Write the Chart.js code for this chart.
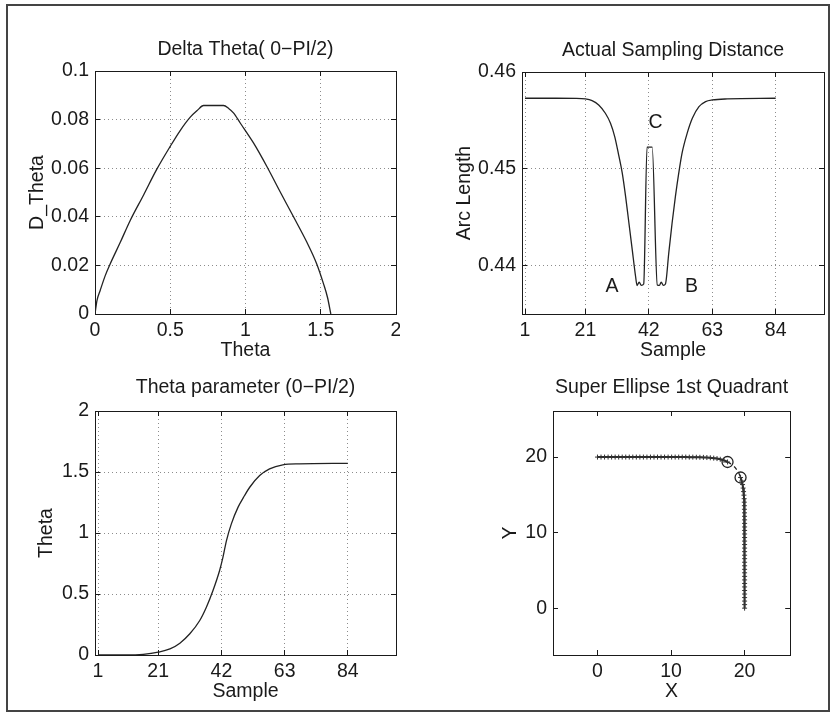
<!DOCTYPE html>
<html><head><meta charset="utf-8">
<script src="https://cdn.jsdelivr.net/npm/chart.js@4.4.1/dist/chart.umd.min.js"></script>
<style>
html,body{margin:0;padding:0;background:#fff;}
body{width:832px;height:714px;position:relative;overflow:hidden;}
#frame{position:absolute;left:6px;top:4px;width:824px;height:708px;box-sizing:border-box;border:2px solid #444;}
canvas{position:absolute;}
</style></head><body>
<div id="frame"></div>
<canvas id="c1" style="left:26px;top:38px" width="374" height="325"></canvas>
<canvas id="c2" style="left:453px;top:39px" width="375" height="324"></canvas>
<canvas id="c3" style="left:35px;top:376px" width="365" height="328"></canvas>
<canvas id="c4" style="left:499px;top:376px" width="298" height="328"></canvas>
<script>
// ---------- data ----------
// Plot 1: Delta Theta vs Theta
const p1Theta = [0, 0.013, 0.035, 0.068, 0.10, 0.168, 0.234, 0.323, 0.41, 0.5, 0.566, 0.633, 0.68, 0.721, 0.854, 0.89, 0.92, 0.965, 1.053, 1.142, 1.23, 1.319, 1.408, 1.474, 1.518, 1.545, 1.567];
const p1Delta = [0, 0.0055, 0.0098, 0.0158, 0.0205, 0.0295, 0.0385, 0.049, 0.0595, 0.069, 0.0755, 0.0810, 0.0838, 0.0858, 0.0858, 0.0845, 0.0828, 0.0786, 0.0704, 0.0607, 0.0503, 0.0400, 0.0295, 0.0205, 0.0125, 0.0068, 0];
const p1XTicks = [0, 0.5, 1, 1.5, 2];
const p1YTicks = [0, 0.02, 0.04, 0.06, 0.08, 0.1];

// Plot 2: Actual sampling distance
const p2Sample = [1, 10, 18, 21, 23.2, 25.4, 27.6, 29.3, 30.7, 32.0, 33.2, 34.3, 35.4, 36.5, 37.6, 38.1, 38.8, 39.5, 40.3, 41.4, 43.1, 44.8, 45.5, 46.1, 46.8, 47.5, 48.6, 49.7, 50.8, 51.9, 53.0, 54.7, 56.4, 58.6, 60.8, 63, 68, 84];
const p2Arc = [0.45729, 0.45729, 0.45728, 0.45722, 0.45704, 0.4566, 0.45574, 0.45471, 0.45333, 0.45144, 0.44955, 0.44715, 0.4444, 0.44165, 0.4389, 0.43794, 0.4383, 0.43795, 0.4381, 0.45224, 0.45224, 0.4380, 0.43795, 0.4383, 0.43795, 0.4381, 0.4413, 0.4444, 0.44715, 0.44955, 0.45162, 0.45368, 0.45522, 0.45642, 0.45694, 0.45711, 0.45722, 0.45729];
const p2XTicks = [1, 21, 42, 63, 84];
const p2YTicks = [0.44, 0.45, 0.46];
const p2Letters = ['A', 'B', 'C'];
const p2LetterX = [29.8, 56.1, 44.2];
const p2LetterY = [0.43787, 0.43787, 0.45477];

// Plot 3: Theta parameter
const p3Sample = [1, 10, 16, 21, 24.9, 28.2, 31.5, 34.8, 37.0, 39.2, 41.4, 42.5, 43.7, 45.3, 47.5, 49.7, 51.4, 54.7, 58.0, 62.4, 67.9, 84];
const p3Theta = [0, 0, 0.005, 0.023, 0.05, 0.097, 0.174, 0.283, 0.392, 0.529, 0.693, 0.80, 0.94, 1.075, 1.21, 1.307, 1.375, 1.471, 1.526, 1.559, 1.567, 1.571];
const p3XTicks = [1, 21, 42, 63, 84];
const p3YTicks = [0, 0.5, 1, 1.5, 2];

// Plot 4: Super ellipse 1st quadrant
const p4X = [0, 0.48, 0.96, 1.44, 1.92, 2.40, 2.88, 3.36, 3.84, 4.32, 4.80, 5.28, 5.76, 6.24, 6.72, 7.20, 7.68, 8.16, 8.64, 9.12, 9.60, 10.08, 10.56, 11.04, 11.52, 12.00, 12.48, 12.96, 13.44, 13.92, 14.40, 14.87, 15.34, 15.80, 16.25, 16.69, 17.2, 17.68,
  17.98, 18.25, 18.5, 18.72, 18.92, 19.1, 19.25, 19.36,
  19.45, 19.6, 19.72, 19.8, 19.86, 19.91, 19.94, 19.96, 19.97, 19.98, 19.99, 19.99, 20, 20, 20, 20, 20, 20, 20, 20, 20, 20, 20, 20, 20, 20, 20, 20, 20, 20, 20, 20, 20, 20, 20, 20, 20, 20];
const p4Y = [20, 20, 20, 20, 20, 20, 20, 20, 20, 20, 20, 20, 20, 20, 20, 20, 20, 20, 20, 20, 20, 20, 20, 20, 20, 20, 19.99, 19.99, 19.98, 19.97, 19.96, 19.94, 19.91, 19.86, 19.8, 19.71, 19.56, 19.35,
  19.2, 19.02, 18.82, 18.6, 18.35, 18.08, 17.8, 17.55,
  17.3, 16.83, 16.36, 15.9, 15.43, 14.96, 14.49, 14.03, 13.56, 13.09, 12.62, 12.16, 11.69, 11.22, 10.75, 10.29, 9.82, 9.35, 8.88, 8.42, 7.95, 7.48, 7.01, 6.55, 6.08, 5.61, 5.14, 4.68, 4.21, 3.74, 3.27, 2.81, 2.34, 1.87, 1.4, 0.94, 0.47, 0];
const p4CircleX = [17.68, 19.45];
const p4CircleY = [19.35, 17.3];
const p4Ticks = [0, 10, 20];

// ---------- styling / helpers ----------
const FONT = '"Liberation Sans", Arial, Helvetica, sans-serif';
const INK = '#1a1a1a';
const FS = 19.5;
Chart.defaults.font.family = FONT;
Chart.defaults.font.size = FS;
Chart.defaults.color = INK;

const pairs = (xs, ys) => ys.map((v, i) => ({x: xs[i], y: v}));
const setTicks = arr => sc => { sc.ticks = arr.map(v => ({value: v})); };

function scalesFor(o) {
  const gridCol = '#8c8c8c';
  const mk = (min, max, ticksArr, position, main, title, size) => {
    const horiz = position === 'bottom' || position === 'top';
    return {
      type: 'linear', min, max, position,
      afterBuildTicks: setTicks(ticksArr),
      grid: {display: true, drawOnChartArea: main && o.grid, color: gridCol, lineWidth: 1,
             drawTicks: true, tickLength: -5, tickColor: INK, tickWidth: 1, tickBorderDash: []},
      border: {display: true, color: INK, width: 1, dash: [1, 3]},
      ticks: {display: main, autoSkip: false, maxRotation: 0, minRotation: 0,
              padding: horiz ? 10 : 11, font: {size: FS, lineHeight: '24px'}, color: INK,
              callback: v => String(v)},
      title: {display: main, text: title || '', padding: 0, color: INK, font: {size: FS, lineHeight: '24px'}},
      afterFit: sc => {
        if (horiz) { sc.height = size; } else { sc.width = size; }
        sc.paddingLeft = 0; sc.paddingRight = 0; sc.paddingTop = 0; sc.paddingBottom = 0;
      }
    };
  };
  return {
    x: mk(o.xMin, o.xMax, o.xTicks, 'bottom', true, o.xTitle, 49),
    y: mk(o.yMin, o.yMax, o.yTicks, 'left', true, o.yTitle, o.yW),
    x2: mk(o.xMin, o.xMax, o.xTicks, 'top', false, '', 0),
    y2: mk(o.yMin, o.yMax, o.yTicks, 'right', false, '', 0)
  };
}

function baseOptions(o) {
  return {
    responsive: false, animation: false, devicePixelRatio: 1,
    layout: {padding: {left: 0, top: 0, right: 4, bottom: 0}},
    plugins: {
      legend: {display: false}, tooltip: {enabled: false},
      title: {display: true, text: o.title, fullSize: false, color: INK,
              padding: {top: 0, bottom: o.titlePad},
              font: {size: FS, weight: 'normal', lineHeight: '24px'}}
    },
    scales: scalesFor(o)
  };
}

const lineDS = (data) => ({
  data, borderColor: '#222', borderWidth: 1.3, pointRadius: 0,
  cubicInterpolationMode: 'monotone', fill: false
});

// Plot 1
new Chart(document.getElementById('c1'), {
  type: 'line',
  data: {datasets: [lineDS(pairs(p1Theta, p1Delta))]},
  options: baseOptions({title: 'Delta Theta( 0\u2212PI/2)', titlePad: 9, grid: true,
    xMin: 0, xMax: 2, yMin: 0, yMax: 0.1, xTicks: p1XTicks, yTicks: p1YTicks,
    xTitle: 'Theta', yTitle: 'D_Theta', yW: 69})
});

// Plot 2
const letterPlugin = {
  id: 'letters',
  afterDatasetsDraw(chart) {
    const {ctx, scales: {x, y}} = chart;
    ctx.save();
    ctx.font = FS + 'px ' + FONT;
    ctx.fillStyle = INK; ctx.textAlign = 'center'; ctx.textBaseline = 'middle';
    p2Letters.forEach((t, i) => ctx.fillText(t, x.getPixelForValue(p2LetterX[i]), y.getPixelForValue(p2LetterY[i])));
    ctx.restore();
  }
};
new Chart(document.getElementById('c2'), {
  type: 'line',
  data: {datasets: [lineDS(pairs(p2Sample, p2Arc))]},
  options: baseOptions({title: 'Actual Sampling Distance', titlePad: 9, grid: true,
    xMin: 0, xMax: 100, yMin: 0.435, yMax: 0.46, xTicks: p2XTicks, yTicks: p2YTicks,
    xTitle: 'Sample', yTitle: 'Arc Length', yW: 69}),
  plugins: [letterPlugin]
});

// Plot 3
new Chart(document.getElementById('c3'), {
  type: 'line',
  data: {datasets: [lineDS(pairs(p3Sample, p3Theta))]},
  options: baseOptions({title: 'Theta parameter (0\u2212PI/2)', titlePad: 11, grid: true,
    xMin: 0, xMax: 100, yMin: 0, yMax: 2, xTicks: p3XTicks, yTicks: p3YTicks,
    xTitle: 'Sample', yTitle: 'Theta', yW: 60})
});

// Plot 4
new Chart(document.getElementById('c4'), {
  type: 'line',
  data: {datasets: [
    {data: pairs(p4X, p4Y), borderColor: '#222', borderWidth: 2, tension: 0, fill: false,
     pointStyle: 'cross', pointBorderColor: '#333', pointBorderWidth: 1,
     pointRadius: c => (c.dataIndex >= 38 && c.dataIndex <= 45) ? 0 : 2.5,
     segment: {borderDash: c => (c.p0DataIndex >= 37 && c.p1DataIndex <= 46) ? [4, 4] : undefined,
               borderWidth: c => (c.p0DataIndex >= 37 && c.p1DataIndex <= 46) ? 1.3 : undefined}},
    {data: pairs(p4CircleX, p4CircleY), showLine: false, pointStyle: 'circle', pointRadius: 5.5,
     pointBorderColor: '#222', pointBorderWidth: 1.3, pointBackgroundColor: 'rgba(0,0,0,0)'}
  ]},
  options: baseOptions({title: 'Super Ellipse 1st Quadrant', titlePad: 11, grid: false,
    xMin: -6.05, xMax: 26.2, yMin: -6.2, yMax: 26.1, xTicks: p4Ticks, yTicks: p4Ticks,
    xTitle: 'X', yTitle: 'Y', yW: 54})
});
</script>
</body></html>
